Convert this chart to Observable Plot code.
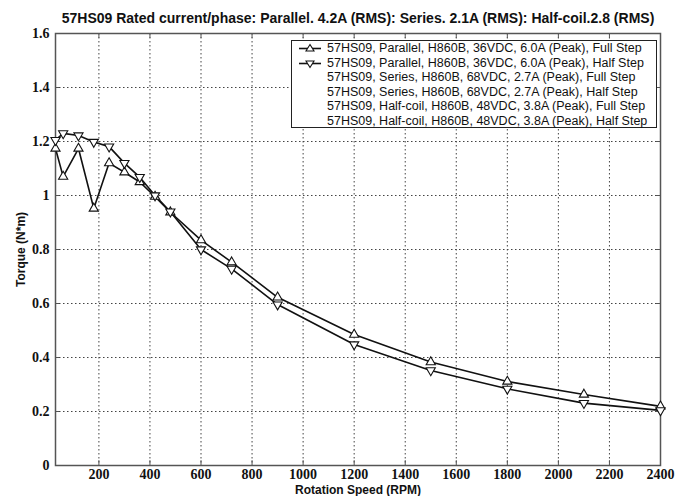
<!DOCTYPE html>
<html>
<head>
<meta charset="utf-8">
<script src="https://cdn.jsdelivr.net/npm/d3@7"></script>
<script src="https://cdn.jsdelivr.net/npm/@observablehq/plot@0.6"></script>
<style>
  body { margin: 0; background: #fff; }
  #wrap { position: relative; width: 689px; height: 496px; }
  #legend { position: absolute; left: 291px; top: 40px; width: 366px; height: 88px; border: 1px solid #222; background: #fff; font-family: "Liberation Sans", Arial, sans-serif; font-size: 12.5px; box-sizing: border-box; color: #111; }
  #legend .row { position: absolute; left: 0; height: 14.5px; line-height: 14.5px; white-space: nowrap; }
  #legend .row svg { position: absolute; left: 6px; top: 0; }
  #legend .row span { position: absolute; left: 35px; }
</style>
</head>
<body>
<div id="wrap"></div>
<script>
const title = "57HS09 Rated current/phase: Parallel. 4.2A (RMS): Series. 2.1A (RMS): Half-coil.2.8 (RMS)";
const rpm = [30, 60, 120, 180, 240, 300, 360, 420, 480, 600, 720, 900, 1200, 1500, 1800, 2100, 2400];
const parallelFull = [1.174, 1.07, 1.174, 0.952, 1.12, 1.086, 1.05, 0.996, 0.938, 0.835, 0.753, 0.623, 0.485, 0.383, 0.311, 0.263, 0.219];
const parallelHalf = [1.205, 1.23, 1.222, 1.198, 1.181, 1.12, 1.068, 1.0, 0.94, 0.80, 0.728, 0.596, 0.448, 0.352, 0.284, 0.231, 0.204];
const legendLabels = [
  "57HS09, Parallel, H860B, 36VDC, 6.0A (Peak), Full Step",
  "57HS09, Parallel, H860B, 36VDC, 6.0A (Peak), Half Step",
  "57HS09, Series, H860B, 68VDC, 2.7A (Peak), Full Step",
  "57HS09, Series, H860B, 68VDC, 2.7A (Peak), Half Step",
  "57HS09, Half-coil, H860B, 48VDC, 3.8A (Peak), Full Step",
  "57HS09, Half-coil, H860B, 48VDC, 3.8A (Peak), Half Step"
];
const xTicks = [200, 400, 600, 800, 1000, 1200, 1400, 1600, 1800, 2000, 2200, 2400];
const yTicks = [0, 0.2, 0.4, 0.6, 0.8, 1.0, 1.2, 1.4, 1.6];

const full = rpm.map((r, i) => ({rpm: r, t: parallelFull[i]}));
const half = rpm.map((r, i) => ({rpm: r, t: parallelHalf[i]}));

const triDown = {
  draw(context, size) {
    const y = -Math.sqrt(size / (3 * Math.sqrt(3)));
    context.moveTo(0, -y * 2);
    context.lineTo(-Math.sqrt(3) * y, y);
    context.lineTo(Math.sqrt(3) * y, y);
    context.closePath();
  }
};

const tickFont = {fontFamily: "Liberation Serif, Times New Roman, serif", fontWeight: "bold", fontSize: 14};

const chart = Plot.plot({
  width: 689,
  height: 496,
  marginTop: 33,
  marginLeft: 55,
  marginRight: 29,
  marginBottom: 31,
  style: {fontFamily: "Liberation Sans, Arial, sans-serif", background: "#fff", color: "#111"},
  x: {domain: [30, 2400], ticks: xTicks},
  y: {domain: [0, 1.6], ticks: yTicks},
  marks: [
    Plot.gridX(xTicks, {stroke: "#444", strokeOpacity: 1, strokeDasharray: "1.5,2.5"}),
    Plot.gridY(yTicks, {stroke: "#444", strokeOpacity: 1, strokeDasharray: "1.5,2.5"}),
    Plot.ruleX(xTicks, {y1: 0, y2: 0.018, stroke: "#555"}),
    Plot.ruleX(xTicks, {y1: 1.6, y2: 1.582, stroke: "#555"}),
    Plot.ruleY(yTicks, {x1: 30, x2: 46, stroke: "#555"}),
    Plot.ruleY(yTicks, {x1: 2400, x2: 2384, stroke: "#555"}),
    Plot.frame({stroke: "#555", strokeWidth: 1.5}),
    Plot.axisX(xTicks, {tickSize: 0, tickPadding: 4, tickFormat: d3.format("d"), label: null, ...tickFont}),
    Plot.axisY(yTicks, {tickSize: 0, tickPadding: 6, tickFormat: d3.format("~g"), label: null, ...tickFont}),
    Plot.axisX({tickSize: 0, ticks: [], label: "Rotation Speed (RPM)", labelAnchor: "center", labelArrow: "none", labelOffset: 28, fontWeight: "bold", fontSize: 12}),
    Plot.axisY({tickSize: 0, ticks: [], label: "Torque (N*m)", labelAnchor: "center", labelArrow: "none", labelOffset: 39, fontWeight: "bold", fontSize: 12}),
    Plot.line(full, {x: "rpm", y: "t", stroke: "#111", strokeWidth: 1.6}),
    Plot.line(half, {x: "rpm", y: "t", stroke: "#111", strokeWidth: 1.6}),
    Plot.dot(full, {x: "rpm", y: "t", symbol: "triangle", r: 3.4, stroke: "#111", fill: "#fff", strokeWidth: 1.1}),
    Plot.dot(half, {x: "rpm", y: "t", symbol: triDown, r: 3.4, stroke: "#111", fill: "#fff", strokeWidth: 1.1}),
    Plot.text([title], {frameAnchor: "top", dy: -20, fontWeight: "bold", fontSize: 14, fill: "#111"})
  ]
});

const wrap = document.getElementById("wrap");
wrap.appendChild(chart);

chart.querySelectorAll('g[aria-label*="tick label"]').forEach(g => {
  g.setAttribute("font-family", "Liberation Serif, Times New Roman, serif");
  g.setAttribute("font-weight", "bold");
  g.setAttribute("font-size", "14");
  g.querySelectorAll("text").forEach(t => {
    t.style.fontFamily = "'Liberation Serif', 'Times New Roman', serif";
    t.style.fontWeight = "bold";
    t.style.fontSize = "14px";
  });
});
chart.querySelectorAll('g[aria-label="x-axis label"] text, g[aria-label="y-axis label"] text').forEach(t => {
  t.textContent = t.textContent.replace(/[↑↓→←]\s*/g, "").trim();
});

const legend = document.createElement("div");
legend.id = "legend";
legendLabels.forEach((lab, i) => {
  const row = document.createElement("div");
  row.className = "row";
  row.style.top = (0 + i * 14.5) + "px";
  let sample = "";
  if (i === 0) sample = '<svg width="24" height="15"><line x1="1" y1="7.5" x2="23" y2="7.5" stroke="#111" stroke-width="1.6"/><path d="M12,3.5 L16,10 L8,10 Z" fill="#fff" stroke="#111" stroke-width="1.1"/></svg>';
  if (i === 1) sample = '<svg width="24" height="15"><line x1="1" y1="7.5" x2="23" y2="7.5" stroke="#111" stroke-width="1.6"/><path d="M12,11.5 L16,5 L8,5 Z" fill="#fff" stroke="#111" stroke-width="1.1"/></svg>';
  row.innerHTML = sample + "<span>" + lab + "</span>";
  legend.appendChild(row);
});
wrap.appendChild(legend);
</script>
</body>
</html>
